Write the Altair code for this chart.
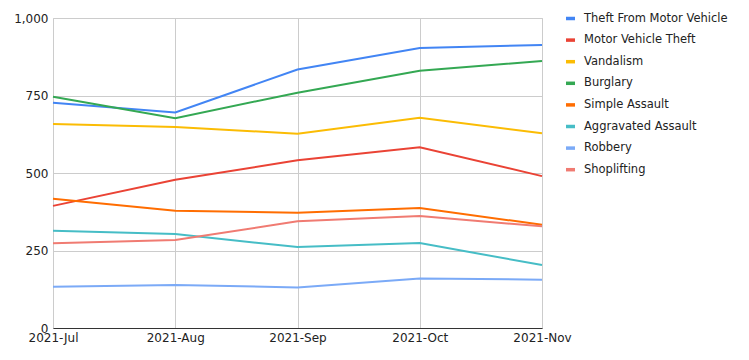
import altair as alt
import pandas as pd

months = ["2021-Jul", "2021-Aug", "2021-Sep", "2021-Oct", "2021-Nov"]
series_names = ["Theft From Motor Vehicle", "Motor Vehicle Theft", "Vandalism", "Burglary",
                "Simple Assault", "Aggravated Assault", "Robbery", "Shoplifting"]
colors = ["#4285F4", "#EA4335", "#FBBC04", "#34A853", "#FF6D01", "#46BDC6", "#7BAAF7", "#F07B72"]

theft_from_mv = [727, 695, 834, 903, 913]
mv_theft = [394, 478, 541, 583, 490]
vandalism = [658, 648, 627, 678, 628]
burglary = [746, 677, 759, 830, 861]
simple_assault = [417, 378, 372, 387, 333]
aggravated_assault = [314, 303, 261, 274, 203]
robbery = [133, 139, 131, 160, 156]
shoplifting = [273, 284, 344, 361, 328]

values = [theft_from_mv, mv_theft, vandalism, burglary, simple_assault,
          aggravated_assault, robbery, shoplifting]

rows = []
for name, vals in zip(series_names, values):
    for m, v in zip(months, vals):
        rows.append({"month": m, "series": name, "value": v})
df = pd.DataFrame(rows)

FONT = "DejaVu Sans"

chart = alt.Chart(df).mark_line(strokeWidth=2).encode(
    x=alt.X("month:O", sort=months, title=None,
            scale=alt.Scale(type="point", padding=0),
            axis=alt.Axis(labelAngle=0, grid=True, gridColor="#cccccc", ticks=False,
                          domainColor="#333333", labelColor="#222222", labelFontSize=12,
                          labelFont=FONT, labelPadding=4)),
    y=alt.Y("value:Q", title=None,
            scale=alt.Scale(domain=[0, 1000], nice=False),
            axis=alt.Axis(values=[0, 250, 500, 750, 1000], format=",d", grid=True,
                          gridColor="#cccccc", ticks=False, domain=False,
                          labelColor="#222222", labelFontSize=12, labelFont=FONT,
                          labelPadding=5)),
    color=alt.Color("series:N", sort=series_names,
                    scale=alt.Scale(domain=series_names, range=colors),
                    legend=alt.Legend(title=None, orient="none", legendX=511, legendY=-6,
                                      symbolType="stroke", symbolSize=81,
                                      symbolStrokeWidth=3.5, labelFont=FONT, labelFontSize=11.5,
                                      labelColor="#222222", rowPadding=6.6, labelOffset=7)),
    order=alt.Order("series:N"),
).properties(
    width=489, height=310,
    padding={"left": 53, "top": 18, "right": 207, "bottom": 32},
    autosize=alt.AutoSizeParams(type="none"),
).configure_view(stroke="#cccccc", strokeWidth=1)

chart.save("out.html", embed_options={"renderer": "svg", "actions": False})
